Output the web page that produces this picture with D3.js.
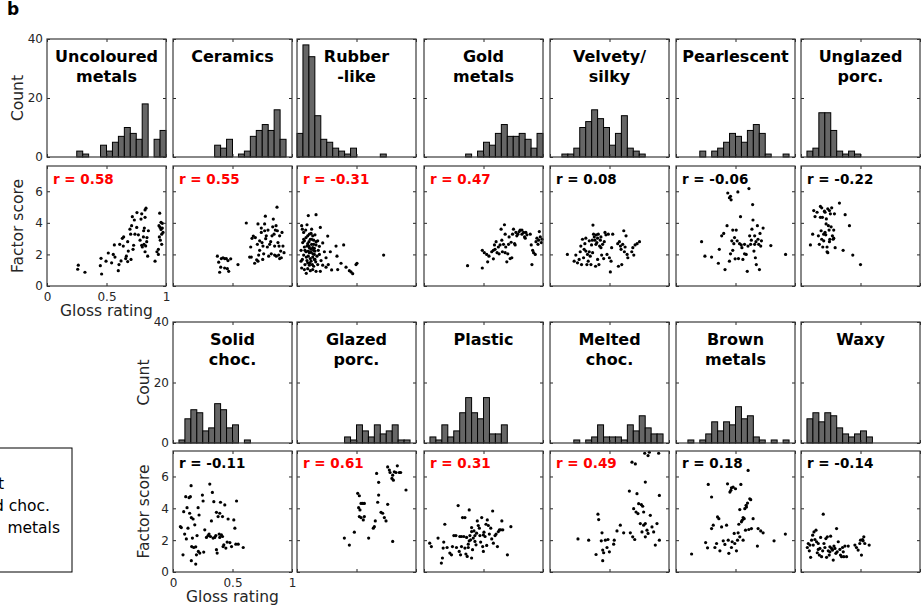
<!DOCTYPE html>
<html>
<head>
<meta charset="utf-8">
<title>Gloss rating vs factor score</title>
<script src="https://d3js.org/d3.v7.min.js"></script>
<style>
  body { margin: 0; background: #fff; }
  text { font-family: "DejaVu Sans", sans-serif; }
</style>
</head>
<body>
<script>
// material names (two-line titles)
var titles = [
  ["Uncoloured", "metals"], ["Ceramics"], ["Rubber", "-like"], ["Gold", "metals"],
  ["Velvety/", "silky"], ["Pearlescent"], ["Unglazed", "porc."],
  ["Solid", "choc."], ["Glazed", "porc."], ["Plastic"], ["Melted", "choc."],
  ["Brown", "metals"], ["Waxy"]
];
var rValues = [0.58, 0.55, -0.31, 0.47, 0.08, -0.06, -0.22, -0.11, 0.61, 0.31, 0.49, 0.18, -0.14];
var significant = [true, true, true, true, false, false, false, false, true, true, true, false, false];

// histogram counts, 20 bins of gloss rating from 0 to 1
var histCounts = [
  [0,0,0,0,0,2,1,0,0,4,2,5,7,10,8,6,18,0,6,9],
  [0,0,0,0,0,0,0,4,3,6,0,1,2,7,9,11,9,16,6,0],
  [8,38,34,14,6,5,3,2,1,3,0,0,0,0,1,0,0,0,0,0],
  [0,0,0,0,0,0,0,1,0,2,5,4,8,11,7,7,8,6,3,8],
  [0,0,1,1,3,10,12,16,13,10,4,8,14,3,2,1,0,0,0,0],
  [0,0,0,0,2,0,2,3,5,8,7,5,9,11,8,1,0,0,1,0],
  [0,2,3,15,15,9,2,1,2,1,0,0,0,0,0,0,0,0,0,0],
  [0,1,8,11,10,4,5,13,11,5,6,0,1,0,0,0,0,0,0,0],
  [0,0,0,0,0,0,0,0,2,1,6,4,2,6,3,4,6,1,1,0],
  [0,2,1,6,2,4,10,15,10,8,15,3,3,6,0,0,0,0,0,0],
  [0,0,0,0,1,0,1,2,6,2,2,2,1,6,4,9,5,3,3,0],
  [0,0,1,0,1,3,7,4,7,6,12,8,9,2,1,0,1,0,1,0],
  [0,8,10,7,10,9,5,3,2,3,4,2,0,0,0,0,0,0,0,0]
];

// scatter points: [gloss rating, factor score]
var uncolouredMetals = [[0.263,1.32],[0.258,1.06],[0.319,0.87],[0.454,1.75],[0.448,1.29],[0.459,0.76],[0.496,1.57],[0.515,2.09],[0.543,1.47],[0.557,2.00],[0.571,1.83],[0.566,2.60],[0.599,0.97],[0.605,1.36],[0.622,1.59],[0.611,2.64],[0.641,2.53],[0.633,3.02],[0.644,3.11],[0.661,1.74],[0.667,1.89],[0.678,2.81],[0.683,2.21],[0.678,1.55],[0.697,3.60],[0.703,3.28],[0.711,3.82],[0.717,4.39],[0.706,1.68],[0.723,2.32],[0.728,2.58],[0.734,4.18],[0.739,3.28],[0.756,4.65],[0.768,3.24],[0.754,3.71],[0.782,2.90],[0.790,4.24],[0.796,4.57],[0.801,2.47],[0.810,3.11],[0.812,3.50],[0.818,3.67],[0.824,4.82],[0.824,4.35],[0.829,2.54],[0.832,4.93],[0.815,2.64],[0.824,2.17],[0.838,2.81],[0.840,3.07],[0.846,1.89],[0.796,2.58],[0.852,3.50],[0.908,1.57],[0.924,2.17],[0.936,2.32],[0.947,4.61],[0.941,3.82],[0.950,3.71],[0.958,3.58],[0.964,3.28],[0.964,2.64],[0.969,3.97],[0.975,3.39],[0.936,2.00],[0.944,3.11],[0.952,2.90],[0.969,3.67],[0.958,4.03]];
var ceramics = [[0.373,1.89],[0.384,1.51],[0.392,0.87],[0.406,1.74],[0.420,1.79],[0.434,1.74],[0.448,1.74],[0.462,1.61],[0.468,0.93],[0.485,1.72],[0.434,1.14],[0.457,1.10],[0.401,1.19],[0.546,1.36],[0.616,3.99],[0.644,1.83],[0.653,2.47],[0.664,3.02],[0.675,3.16],[0.686,1.44],[0.692,3.07],[0.703,1.66],[0.709,2.64],[0.714,3.93],[0.720,1.96],[0.728,2.26],[0.742,3.67],[0.742,3.39],[0.748,2.75],[0.754,1.68],[0.756,2.53],[0.762,2.04],[0.770,3.50],[0.776,4.42],[0.779,3.00],[0.784,3.18],[0.793,2.47],[0.798,3.54],[0.804,1.89],[0.812,2.64],[0.821,2.81],[0.826,2.04],[0.832,3.18],[0.838,3.75],[0.843,4.24],[0.849,3.28],[0.854,2.53],[0.860,3.54],[0.866,3.82],[0.868,1.89],[0.874,4.99],[0.877,3.50],[0.882,2.75],[0.888,1.96],[0.891,2.53],[0.896,3.18],[0.905,2.21],[0.910,1.79],[0.916,3.39],[0.924,2.53],[0.933,2.11],[0.896,1.74],[0.854,1.96],[0.770,3.93],[0.728,2.86],[0.658,1.83],[0.714,1.57]];
var rubberLike = [[0.095,4.46],[0.160,4.52],[0.039,3.82],[0.045,3.60],[0.084,3.88],[0.123,3.60],[0.196,3.71],[0.056,3.39],[0.104,3.28],[0.132,3.18],[0.151,3.24],[0.076,3.07],[0.112,2.96],[0.140,2.90],[0.174,2.86],[0.048,2.75],[0.090,2.68],[0.123,2.64],[0.160,2.60],[0.216,2.73],[0.062,2.47],[0.104,2.43],[0.146,2.39],[0.188,2.51],[0.034,2.26],[0.076,2.17],[0.118,2.13],[0.151,2.21],[0.179,2.26],[0.056,1.96],[0.095,1.89],[0.132,1.83],[0.168,1.89],[0.045,1.68],[0.084,1.61],[0.118,1.57],[0.157,1.53],[0.202,1.61],[0.067,1.36],[0.104,1.32],[0.140,1.25],[0.174,1.36],[0.039,1.14],[0.090,1.10],[0.132,1.04],[0.078,0.80],[0.112,0.97],[0.160,0.93],[0.196,0.93],[0.230,2.17],[0.244,1.79],[0.258,3.16],[0.263,1.36],[0.280,2.17],[0.291,1.02],[0.328,2.53],[0.336,1.89],[0.342,1.04],[0.370,1.44],[0.392,2.60],[0.412,1.19],[0.440,0.97],[0.454,0.89],[0.468,0.78],[0.496,1.36],[0.504,1.44],[0.728,1.96],[0.216,1.32],[0.244,1.19],[0.062,2.86],[0.146,1.68],[0.104,2.11],[0.034,1.57],[0.188,2.00],[0.132,2.43],[0.090,1.47],[0.160,2.81],[0.062,1.04],[0.073,3.54],[0.101,2.81],[0.118,3.33],[0.134,2.04],[0.084,2.53],[0.112,1.74],[0.146,2.00],[0.095,2.21],[0.123,2.96],[0.078,1.83],[0.140,2.64],[0.106,1.44],[0.090,3.18],[0.129,1.36],[0.067,2.26],[0.151,1.68],[0.101,2.53],[0.118,2.32],[0.056,2.96],[0.140,2.26]];
var goldMetals = [[0.366,1.29],[0.490,1.14],[0.490,2.26],[0.507,2.11],[0.535,1.53],[0.527,2.00],[0.546,1.89],[0.569,2.17],[0.583,1.72],[0.592,2.60],[0.597,2.32],[0.606,2.81],[0.614,2.11],[0.625,2.47],[0.631,2.04],[0.639,2.60],[0.648,3.60],[0.654,2.90],[0.659,2.17],[0.668,2.64],[0.676,3.88],[0.682,3.28],[0.687,2.47],[0.696,1.53],[0.704,2.04],[0.710,2.64],[0.715,3.11],[0.724,1.74],[0.732,2.77],[0.744,3.28],[0.752,3.60],[0.761,2.68],[0.766,2.60],[0.772,3.39],[0.780,3.18],[0.789,3.28],[0.800,3.45],[0.808,3.54],[0.823,3.28],[0.837,3.39],[0.845,3.11],[0.851,3.03],[0.856,3.39],[0.865,3.24],[0.893,3.28],[0.901,2.60],[0.907,1.36],[0.913,2.26],[0.921,2.11],[0.935,2.00],[0.941,2.81],[0.949,3.03],[0.958,2.64],[0.963,2.90],[0.969,3.45],[0.977,3.11],[0.986,2.75],[0.992,2.96],[0.583,2.26],[0.682,2.11],[0.823,3.54],[0.738,1.79]];
var velvetySilky = [[0.146,2.00],[0.203,1.57],[0.217,1.96],[0.231,1.47],[0.245,1.68],[0.254,2.17],[0.259,2.53],[0.265,1.36],[0.273,2.96],[0.282,1.79],[0.287,2.32],[0.293,2.68],[0.301,3.03],[0.310,1.36],[0.315,2.00],[0.321,1.57],[0.330,2.17],[0.338,1.89],[0.344,1.36],[0.349,2.60],[0.355,2.90],[0.361,3.86],[0.366,3.28],[0.372,3.11],[0.377,2.90],[0.383,1.25],[0.389,3.24],[0.394,2.75],[0.400,3.03],[0.406,3.28],[0.411,1.36],[0.417,2.53],[0.423,2.90],[0.428,3.11],[0.434,1.96],[0.442,2.64],[0.451,1.74],[0.456,2.81],[0.462,3.39],[0.470,3.24],[0.479,2.00],[0.490,3.28],[0.499,1.79],[0.507,0.89],[0.513,1.57],[0.518,2.43],[0.527,3.28],[0.569,2.68],[0.575,1.25],[0.583,2.81],[0.592,2.53],[0.597,2.32],[0.603,1.36],[0.611,2.64],[0.620,3.50],[0.625,2.17],[0.631,2.47],[0.639,3.18],[0.648,2.00],[0.654,1.79],[0.687,2.17],[0.696,2.43],[0.704,1.96],[0.715,2.60],[0.732,2.68],[0.752,2.81],[0.330,2.86],[0.386,2.64],[0.428,2.43],[0.358,2.11],[0.400,1.68],[0.301,2.21]];
var pearlescent = [[0.215,2.81],[0.243,1.89],[0.299,1.83],[0.356,1.44],[0.364,2.32],[0.384,3.18],[0.401,3.33],[0.412,1.04],[0.429,3.82],[0.435,5.89],[0.449,5.59],[0.458,5.68],[0.463,5.46],[0.449,1.57],[0.458,2.04],[0.469,2.86],[0.477,3.54],[0.486,2.68],[0.492,3.07],[0.497,1.72],[0.506,3.54],[0.514,2.86],[0.520,5.96],[0.525,1.74],[0.534,2.68],[0.542,4.39],[0.548,2.60],[0.554,2.43],[0.562,1.68],[0.576,2.04],[0.590,2.00],[0.599,0.93],[0.605,2.53],[0.613,6.17],[0.619,3.18],[0.627,2.64],[0.633,2.90],[0.638,3.60],[0.644,5.16],[0.647,4.18],[0.655,2.21],[0.661,2.64],[0.667,1.79],[0.672,2.81],[0.675,1.36],[0.684,3.82],[0.689,2.96],[0.695,2.64],[0.701,1.04],[0.706,3.33],[0.712,2.53],[0.718,2.86],[0.732,3.67],[0.797,2.56],[0.921,2.00],[0.477,2.26],[0.576,2.64],[0.661,3.18]];
var unglazedPorc = [[0.079,2.60],[0.098,3.28],[0.107,4.78],[0.118,4.40],[0.135,4.67],[0.146,3.18],[0.154,2.64],[0.163,5.04],[0.169,3.50],[0.174,4.95],[0.180,4.35],[0.183,2.47],[0.191,2.86],[0.197,4.74],[0.202,3.39],[0.208,3.24],[0.213,4.25],[0.219,2.47],[0.219,2.17],[0.225,2.11],[0.225,4.89],[0.230,3.82],[0.236,3.54],[0.239,4.78],[0.242,2.96],[0.247,4.57],[0.253,3.75],[0.258,4.95],[0.264,3.18],[0.270,2.96],[0.275,3.54],[0.275,3.03],[0.281,4.57],[0.287,2.43],[0.191,3.28],[0.202,4.67],[0.163,4.35],[0.174,2.96],[0.211,3.93],[0.239,2.81],[0.323,5.25],[0.371,4.52],[0.407,3.82],[0.354,2.26],[0.435,1.96],[0.500,1.36]];
var solidChoc = [[0.084,1.08],[0.062,2.85],[0.070,2.79],[0.090,3.79],[0.107,4.73],[0.098,2.38],[0.112,2.08],[0.118,4.04],[0.126,2.75],[0.135,4.67],[0.140,3.69],[0.146,4.73],[0.152,5.42],[0.154,3.42],[0.163,2.13],[0.169,3.33],[0.157,1.60],[0.174,1.54],[0.183,2.96],[0.191,1.58],[0.197,1.08],[0.202,2.29],[0.211,4.04],[0.213,1.29],[0.219,3.58],[0.225,1.19],[0.247,4.83],[0.253,4.46],[0.258,1.25],[0.267,2.65],[0.281,2.17],[0.295,2.29],[0.309,5.52],[0.303,2.38],[0.315,2.23],[0.323,3.21],[0.331,5.00],[0.337,2.13],[0.343,4.42],[0.351,2.17],[0.360,2.29],[0.365,1.40],[0.365,3.75],[0.371,1.19],[0.379,3.48],[0.388,2.38],[0.393,2.17],[0.399,4.38],[0.407,2.33],[0.416,2.23],[0.421,1.60],[0.427,1.71],[0.435,4.21],[0.444,1.50],[0.455,1.88],[0.463,3.33],[0.478,1.85],[0.492,1.60],[0.511,3.27],[0.520,2.75],[0.528,1.75],[0.534,4.46],[0.548,1.75],[0.590,1.54],[0.154,0.71],[0.191,0.50],[0.416,3.48],[0.393,3.69]];
var glazedPorc = [[0.398,2.13],[0.440,1.69],[0.482,2.50],[0.510,4.94],[0.524,4.79],[0.518,4.04],[0.529,3.90],[0.538,4.31],[0.552,4.31],[0.566,4.31],[0.524,3.48],[0.538,3.42],[0.557,3.27],[0.566,3.48],[0.602,2.13],[0.641,2.75],[0.650,2.85],[0.658,3.21],[0.669,6.19],[0.686,5.63],[0.686,4.83],[0.678,4.38],[0.706,3.75],[0.720,3.69],[0.734,3.42],[0.748,3.21],[0.762,4.25],[0.762,6.60],[0.776,6.40],[0.782,6.25],[0.798,5.88],[0.804,6.08],[0.810,5.77],[0.818,6.29],[0.832,6.25],[0.843,6.67],[0.860,6.25],[0.871,6.25],[0.804,1.92],[0.916,5.15]];
var plastic = [[0.048,1.81],[0.062,1.60],[0.118,2.13],[0.146,0.56],[0.155,0.88],[0.161,1.50],[0.166,1.88],[0.175,3.00],[0.194,1.54],[0.217,1.19],[0.239,1.60],[0.251,2.29],[0.268,2.29],[0.273,1.54],[0.287,4.17],[0.296,1.29],[0.301,2.23],[0.307,1.08],[0.315,2.23],[0.324,3.42],[0.335,2.23],[0.344,3.42],[0.344,1.50],[0.352,1.13],[0.358,2.17],[0.363,0.98],[0.372,1.54],[0.380,3.90],[0.380,1.96],[0.386,2.29],[0.392,2.02],[0.400,2.54],[0.400,2.79],[0.408,1.40],[0.414,2.13],[0.420,2.58],[0.428,1.92],[0.437,1.71],[0.442,2.44],[0.448,3.21],[0.456,2.92],[0.465,2.75],[0.470,2.29],[0.476,1.88],[0.485,3.42],[0.493,1.60],[0.499,1.29],[0.504,2.50],[0.513,2.23],[0.521,3.00],[0.527,1.67],[0.532,3.27],[0.541,2.92],[0.549,2.38],[0.561,2.75],[0.569,2.08],[0.577,3.83],[0.583,1.81],[0.597,2.29],[0.606,2.38],[0.617,1.60],[0.625,2.54],[0.634,2.65],[0.645,2.65],[0.654,3.21],[0.662,2.65],[0.701,1.08],[0.730,2.85],[0.372,1.75],[0.428,2.29],[0.231,1.08],[0.400,0.88],[0.315,1.60],[0.499,2.33]];
var meltedChoc = [[0.235,2.08],[0.325,2.00],[0.387,1.10],[0.403,3.63],[0.409,3.29],[0.431,1.96],[0.437,2.46],[0.443,1.38],[0.451,1.21],[0.443,0.71],[0.465,2.00],[0.479,1.54],[0.487,2.04],[0.499,1.27],[0.535,1.75],[0.563,2.58],[0.591,2.94],[0.540,2.00],[0.619,2.46],[0.675,2.46],[0.695,2.21],[0.712,2.04],[0.667,5.08],[0.731,4.92],[0.689,6.90],[0.717,6.79],[0.703,3.98],[0.723,3.77],[0.739,3.67],[0.745,4.29],[0.768,4.23],[0.779,4.13],[0.787,3.77],[0.801,5.65],[0.796,7.46],[0.824,7.31],[0.835,7.52],[0.801,3.04],[0.787,2.94],[0.773,2.52],[0.815,2.63],[0.824,2.42],[0.843,3.56],[0.857,2.83],[0.899,3.04],[0.885,1.69],[0.919,4.81],[0.913,7.46],[0.919,2.00],[0.801,2.21],[0.871,2.52],[0.759,3.04]];
var brownMetals = [[0.131,1.13],[0.249,1.85],[0.265,1.52],[0.299,2.73],[0.313,2.94],[0.271,5.50],[0.299,4.71],[0.327,1.54],[0.341,1.79],[0.349,3.46],[0.360,3.35],[0.369,1.33],[0.383,2.83],[0.397,1.96],[0.411,1.73],[0.425,2.94],[0.433,5.54],[0.439,2.00],[0.444,1.17],[0.453,5.02],[0.461,5.13],[0.466,5.29],[0.472,1.90],[0.480,5.33],[0.489,2.42],[0.500,5.23],[0.508,1.33],[0.517,2.00],[0.522,2.46],[0.528,3.00],[0.536,3.92],[0.545,5.50],[0.550,3.15],[0.556,3.25],[0.564,3.42],[0.573,3.35],[0.578,3.98],[0.584,2.63],[0.589,4.19],[0.592,4.08],[0.601,4.33],[0.606,6.38],[0.612,2.67],[0.620,4.60],[0.628,4.54],[0.634,2.73],[0.648,3.35],[0.684,1.63],[0.690,2.73],[0.712,2.58],[0.732,2.46],[0.824,1.96],[0.919,2.38],[0.494,1.79],[0.564,2.00],[0.536,2.21],[0.466,1.54]];
var waxy = [[0.053,1.54],[0.061,1.79],[0.070,1.33],[0.081,0.92],[0.089,2.00],[0.098,2.31],[0.103,1.69],[0.109,2.52],[0.117,2.04],[0.126,2.63],[0.131,1.90],[0.137,1.21],[0.145,1.79],[0.154,1.06],[0.159,1.48],[0.165,2.17],[0.173,0.96],[0.182,1.33],[0.187,3.63],[0.193,1.79],[0.201,1.54],[0.209,2.10],[0.215,0.92],[0.221,2.21],[0.229,1.33],[0.237,1.06],[0.243,1.58],[0.249,2.25],[0.257,1.48],[0.265,1.38],[0.271,0.75],[0.277,1.63],[0.285,1.48],[0.293,1.17],[0.299,2.73],[0.304,1.27],[0.313,1.90],[0.327,1.42],[0.332,1.06],[0.341,0.96],[0.349,1.54],[0.360,0.96],[0.369,1.63],[0.383,0.96],[0.397,1.63],[0.453,1.69],[0.466,1.54],[0.480,1.38],[0.494,1.79],[0.500,2.00],[0.508,1.06],[0.517,2.04],[0.522,1.96],[0.528,2.21],[0.536,1.79],[0.573,1.69],[0.075,1.69],[0.145,1.42],[0.243,1.27],[0.355,1.27]];

var scatterData = [uncolouredMetals, ceramics, rubberLike, goldMetals, velvetySilky, pearlescent, unglazedPorc,
                   solidChoc, glazedPorc, plastic, meltedChoc, brownMetals, waxy];

var binWidth = 0.05;
var histTicks = [0, 20, 40];
var scoreTicks = [0, 2, 4, 6];
var glossTicks = [0, 0.5, 1];

// layout
var width = 921, height = 606;
var colLeft = [47, 173, 297, 424, 550, 676, 801];
var panelW = 119;
var rows = [
  {hTop: 39, hBot: 157, sTop: 166, sBot: 286},
  {hTop: 322, hBot: 443, sTop: 451, sBot: 572}
];
var axisColor = "#262626";

var svg = d3.select("body").append("svg")
    .attr("width", width)
    .attr("height", height);

svg.append("text")
    .attr("x", 7).attr("y", 15)
    .attr("font-size", 17).attr("font-weight", "bold")
    .text("b");

// legend box at bottom left, running off the left edge as in the source figure
var legend = svg.append("g");
legend.append("rect")
    .attr("x", -2).attr("y", 448).attr("width", 74).attr("height", 124)
    .attr("fill", "#fff").attr("stroke", "#000").attr("stroke-width", 1);
legend.append("text").attr("x", 4).attr("y", 489).attr("text-anchor", "end")
    .attr("font-size", 15.5).text("Highlight");
legend.append("text").attr("x", 50).attr("y", 511).attr("text-anchor", "end")
    .attr("font-size", 15.5).text("Solid choc.");
legend.append("text").attr("x", 60).attr("y", 533).attr("text-anchor", "end")
    .attr("font-size", 15.5).text("metals");

function drawAxes(g, x, y, yTicks, labelled, top, bot) {
  var left = x.range()[0], right = x.range()[1];
  g.append("g").attr("transform", "translate(" + left + ",0)")
    .call(d3.axisLeft(y).tickValues(yTicks).tickSize(-3).tickPadding(4)
      .tickFormat(labelled ? d3.format("d") : ""));
  g.append("g").attr("transform", "translate(" + right + ",0)")
    .call(d3.axisRight(y).tickValues(yTicks).tickSize(-3).tickFormat(""));
  g.append("g").attr("transform", "translate(0," + top + ")")
    .call(d3.axisTop(x).tickValues(glossTicks).tickSize(-3).tickFormat(""));
  g.append("g").attr("transform", "translate(0," + bot + ")")
    .call(d3.axisBottom(x).tickValues(glossTicks).tickSize(-3).tickPadding(6)
      .tickFormat(function(d) { return labelled === "x" ? String(d) : ""; }));
  g.selectAll(".domain").remove();
  g.selectAll(".tick line").attr("stroke", axisColor);
  g.selectAll(".tick text").attr("fill", axisColor).attr("font-size", 12)
    .attr("font-family", "DejaVu Sans");
  g.append("rect")
    .attr("x", left).attr("y", top).attr("width", right - left).attr("height", bot - top)
    .attr("fill", "none").attr("stroke", "#3a3a3a").attr("stroke-width", 1.2);
}

titles.forEach(function(title, i) {
  var row = i < 7 ? 0 : 1;
  var col = i < 7 ? i : i - 6;
  var R = rows[row];
  var L = colLeft[col];
  var first = (i === 0 || i === 7);
  var g = svg.append("g");

  var x = d3.scaleLinear().domain([0, 1]).range([L, L + panelW]);
  var yH = d3.scaleLinear().domain([0, 40]).range([R.hBot, R.hTop]);
  var yS = d3.scaleLinear().domain([0, 7.6]).range([R.sBot, R.sTop]);

  // histogram
  var hg = g.append("g");
  hg.selectAll("rect")
    .data(histCounts[i].map(function(c, j) { return {x0: j * binWidth, c: c}; })
      .filter(function(d) { return d.c > 0; }))
    .enter().append("rect")
      .attr("x", function(d) { return x(d.x0); })
      .attr("width", function(d) { return x(d.x0 + binWidth) - x(d.x0); })
      .attr("y", function(d) { return yH(d.c); })
      .attr("height", function(d) { return yH(0) - yH(d.c); })
      .attr("fill", "#666")
      .attr("stroke", "#000")
      .attr("stroke-width", 1);
  drawAxes(hg, x, yH, histTicks, first, R.hTop, R.hBot);

  hg.selectAll(".ttl")
    .data(title)
    .enter().append("text")
      .attr("x", L + panelW / 2)
      .attr("y", function(d, k) { return R.hTop + 22.5 + k * 20; })
      .attr("text-anchor", "middle")
      .attr("font-size", 16).attr("font-weight", "bold")
      .text(function(d) { return d; });

  // scatter
  var sg = g.append("g");
  sg.selectAll("circle")
    .data(scatterData[i])
    .enter().append("circle")
      .attr("cx", function(d) { return x(d[0]); })
      .attr("cy", function(d) { return yS(d[1]); })
      .attr("r", 1.6)
      .attr("fill", "#000");
  drawAxes(sg, x, yS, scoreTicks, first ? "x" : false, R.sTop, R.sBot);

  sg.append("text")
    .attr("x", L + 6)
    .attr("y", R.sTop + (row === 0 ? 18 : 16.5))
    .attr("font-size", 13.5).attr("font-weight", "bold")
    .attr("fill", significant[i] ? "#ff0000" : "#000")
    .text("r = " + rValues[i].toFixed(2));

  if (first) {
    var lx = L - 24;
    g.append("text")
      .attr("transform", "translate(" + lx + "," + (R.hTop + R.hBot) / 2 + ") rotate(-90)")
      .attr("text-anchor", "middle").attr("font-size", 15.5).attr("fill", axisColor)
      .text("Count");
    g.append("text")
      .attr("transform", "translate(" + lx + "," + (R.sTop + R.sBot) / 2 + ") rotate(-90)")
      .attr("text-anchor", "middle").attr("font-size", 15.5).attr("fill", axisColor)
      .text("Factor score");
    g.append("text")
      .attr("x", L + panelW / 2).attr("y", R.sBot + 30)
      .attr("text-anchor", "middle").attr("font-size", 15.5).attr("fill", axisColor)
      .text("Gloss rating");
  }
});
</script>
</body>
</html>
